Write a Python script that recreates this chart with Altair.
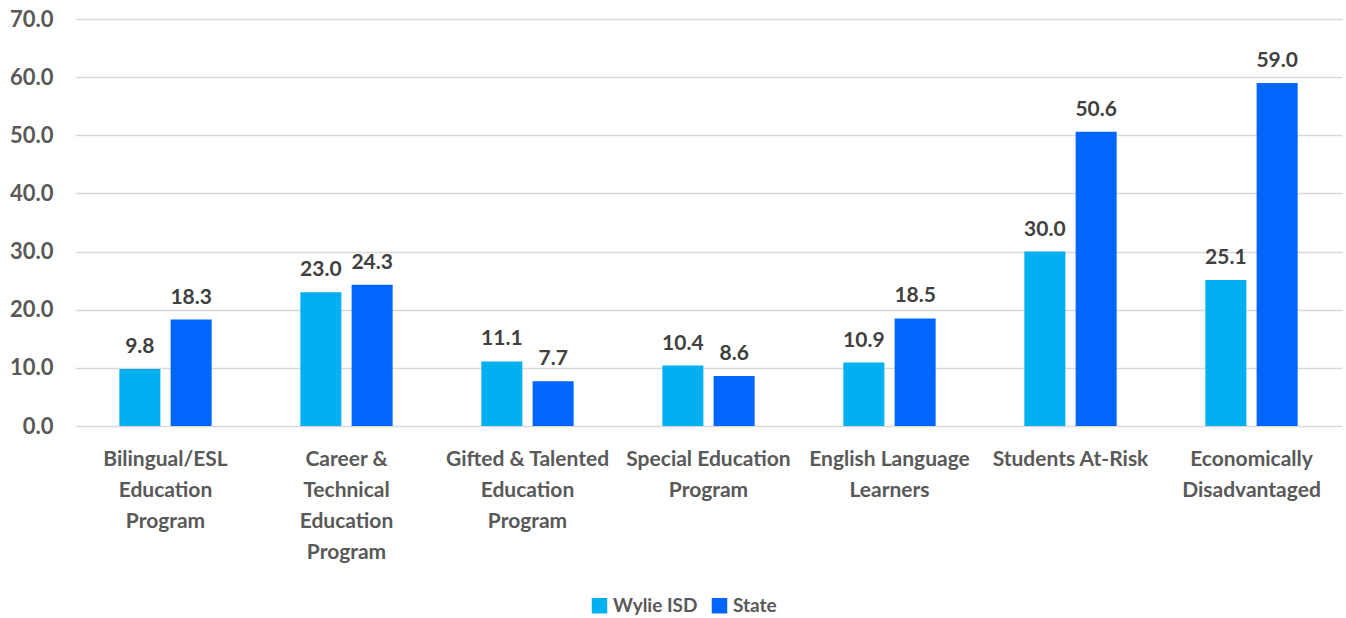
import altair as alt
import pandas as pd

categories = [
    "Bilingual/ESL|Education|Program",
    "Career &|Technical|Education|Program",
    "Gifted & Talented|Education|Program",
    "Special Education|Program",
    "English Language|Learners",
    "Students At-Risk",
    "Economically|Disadvantaged",
]
wylie = [9.8, 23.0, 11.1, 10.4, 10.9, 30.0, 25.1]
state = [18.3, 24.3, 7.7, 8.6, 18.5, 50.6, 59.0]
series = ["Wylie ISD", "State"]
colors = ["#00B0F0", "#0066FF"]

rows = []
for c, w, s in zip(categories, wylie, state):
    rows.append({"cat": c, "series": series[0], "value": w})
    rows.append({"cat": c, "series": series[1], "value": s})
df = pd.DataFrame(rows)

FONT = "Lato"

x = alt.X("cat:N", sort=categories, title=None,
          scale=alt.Scale(paddingInner=0.49, paddingOuter=0.245),
          axis=alt.Axis(labelExpr="split(datum.label, '|')", labelAngle=0,
                        labelFont=FONT, labelFontWeight="bold", labelFontSize=21,
                        labelColor="#595959", labelLineHeight=31, labelPadding=22,
                        domain=False, ticks=False, grid=False, labelBaseline="top"))
xoff = alt.XOffset("series:N", sort=series,
                   scale=alt.Scale(paddingInner=0.2, paddingOuter=0))
y = alt.Y("value:Q", title=None,
          scale=alt.Scale(domain=[0, 70]),
          axis=alt.Axis(values=[0, 10, 20, 30, 40, 50, 60, 70], format=".1f",
                        labelFont=FONT, labelFontWeight="bold", labelFontSize=22,
                        labelColor="#595959", labelPadding=22,
                        domain=False, ticks=False, grid=True,
                        gridColor="#D9D9D9", gridWidth=1.5))
color = alt.Color("series:N", sort=series,
                  scale=alt.Scale(domain=series, range=colors),
                  legend=alt.Legend(title=None, orient="none", direction="horizontal",
                                    legendX=515, legendY=577,
                                    symbolType="square", symbolSize=240,
                                    symbolStrokeWidth=0,
                                    labelFont=FONT, labelFontWeight="bold",
                                    labelFontSize=19, labelColor="#595959",
                                    columnPadding=12, labelOffset=4, padding=0))

base = alt.Chart(df)
bars = base.mark_bar().encode(x=x, xOffset=xoff, y=y, color=color)
text = base.mark_text(baseline="alphabetic", dy=-16, font=FONT, fontWeight="bold",
                      fontSize=21, color="#404040").encode(
    x=x, xOffset=xoff, y=y,
    text=alt.Text("value:Q", format=".1f"))

chart = (bars + text).properties(
    width=1267, height=407,
    background="white",
    autosize=alt.AutoSizeParams(type="none"),
    padding={"left": 75, "top": 19, "right": 4, "bottom": 192},
).configure_view(strokeWidth=0, strokeOpacity=0)

chart.save("out.html", embed_options={"renderer": "svg", "actions": False})
